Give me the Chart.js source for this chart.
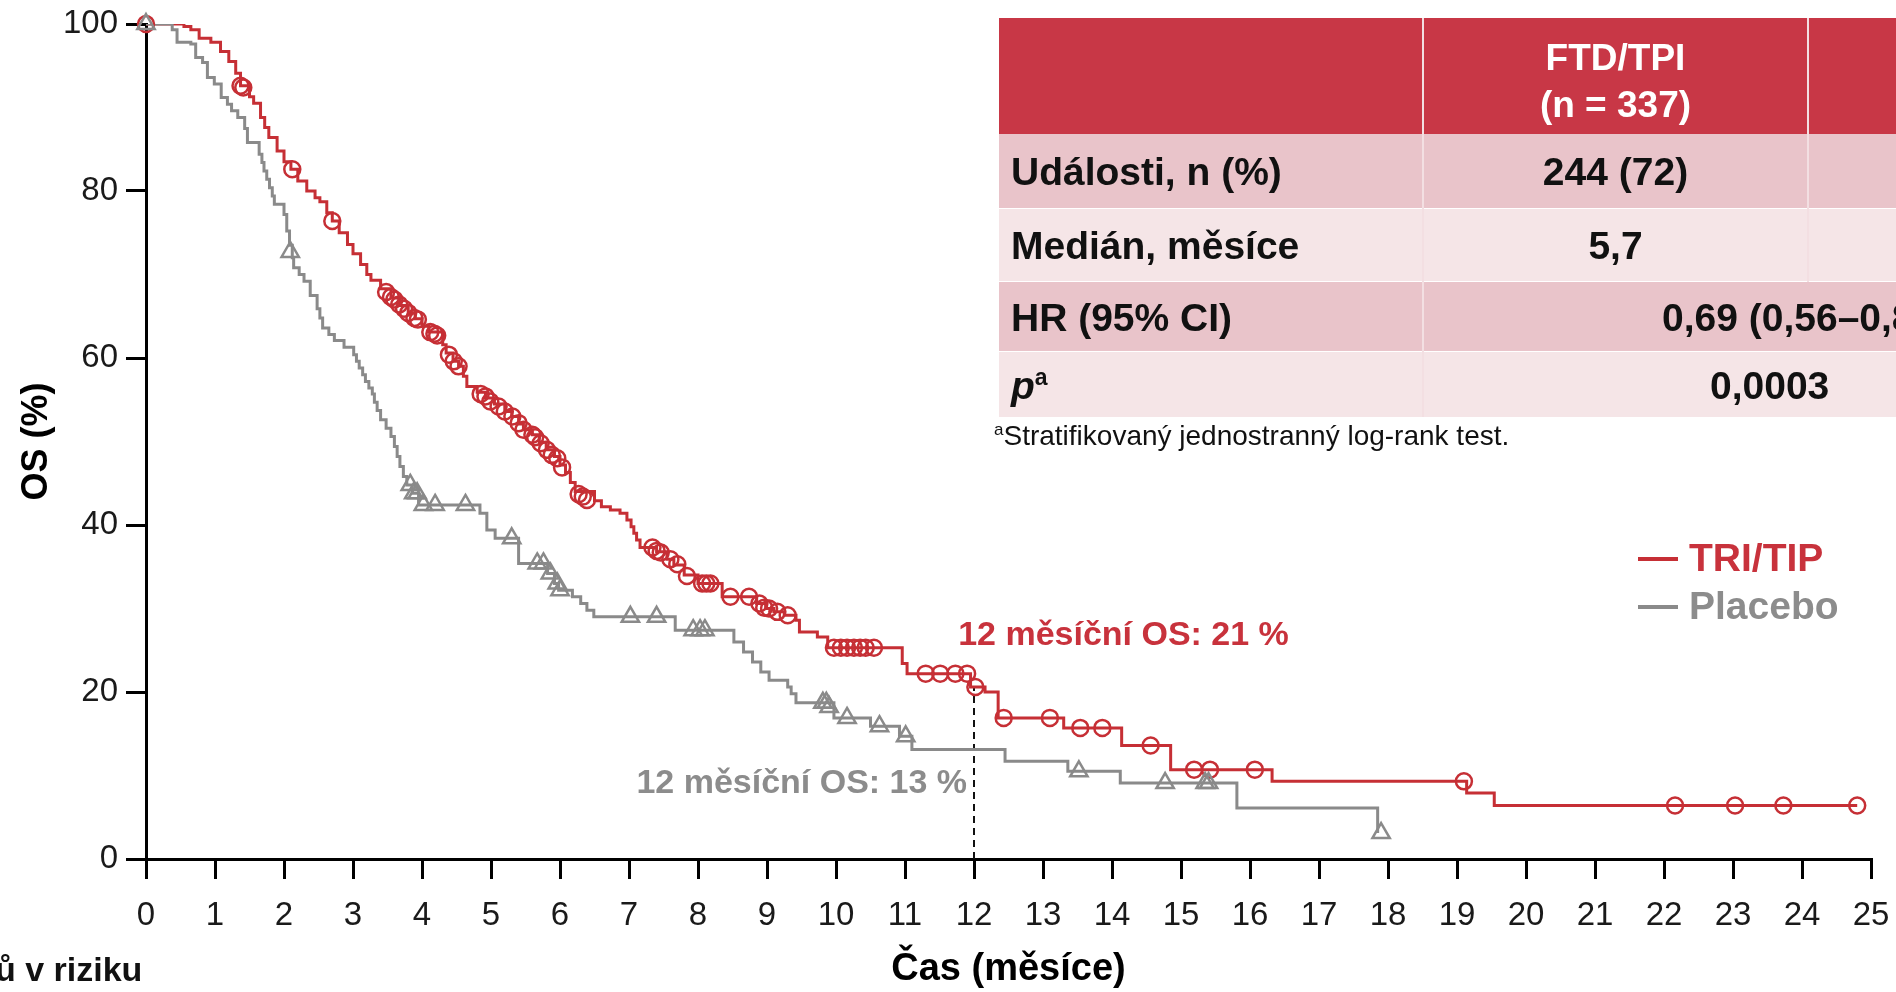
<!DOCTYPE html>
<html lang="cs">
<head>
<meta charset="utf-8">
<title>Celkové přežití – TRI/TIP vs. placebo</title>
<script src="https://cdn.jsdelivr.net/npm/chart.js@4.4.1/dist/chart.umd.min.js"></script>
<style>
  html, body { margin: 0; padding: 0; background: #fff; overflow: hidden; }
  #wrap {
    position: relative; width: 1896px; height: 992px; overflow: hidden;
    font-family: 'Liberation Sans', Arial, Helvetica, sans-serif; color: #111;
  }
  #os { position: absolute; left: 0; top: 0; }

  table.stats {
    position: absolute; left: 999px; top: 18px;
    border-collapse: collapse; table-layout: fixed; width: 1194px;
    font-weight: bold; font-size: 39px;
  }
  table.stats td, table.stats th { padding: 0; white-space: nowrap; vertical-align: middle; }
  table.stats th {
    background: #c83746; color: #fff; height: 116px; line-height: 47px;
    font-weight: bold; font-size: 37px; text-align: center; padding-top: 10px; box-sizing: border-box;
  }
  table.stats .sep { border-left: 2px solid #f3dfe2; }
  table.stats tr.dark td { background: #e9c4ca; }
  table.stats tr.light td { background: #f5e5e7; }
  table.stats tbody tr + tr td { border-top: 1px solid #fff; }
  table.stats td.lbl { padding-left: 12px; padding-top: 3px; }
  table.stats td.val { text-align: center; padding-top: 3px; }
  table.stats td.span { text-align: left; padding-top: 3px; }

  .foot {
    position: absolute; left: 994px; top: 420px; font-size: 28px; white-space: nowrap;
  }
  .foot sup { font-size: 17px; vertical-align: 10px; }
  .risk {
    position: absolute; left: -5px; top: 950px; font-size: 34px; font-weight: bold; white-space: nowrap;
  }
</style>
</head>
<body>
<div id="wrap">
  <canvas id="os" width="1896" height="992"></canvas>

  <table class="stats">
    <colgroup><col style="width:424px"><col style="width:385px"><col style="width:385px"></colgroup>
    <thead>
      <tr><th></th><th class="sep">FTD/TPI<br>(n = 337)</th><th class="sep"></th></tr>
    </thead>
    <tbody>
      <tr class="dark" style="height:74px"><td class="lbl">Události, n (%)</td><td class="val sep">244 (72)</td><td class="sep"></td></tr>
      <tr class="light" style="height:73px"><td class="lbl">Medián, měsíce</td><td class="val sep">5,7</td><td class="sep"></td></tr>
      <tr class="dark" style="height:70px"><td class="lbl">HR (95% CI)</td><td class="span sep" colspan="2" style="padding-left:238px">0,69 (0,56–0,85)</td></tr>
      <tr class="light" style="height:66px"><td class="lbl"><i>p</i><sup style="font-size:23px">a</sup></td><td class="span sep" colspan="2" style="padding-left:286px">0,0003</td></tr>
    </tbody>
  </table>
  <div class="foot"><sup>a</sup>Stratifikovaný jednostranný log-rank test.</div>
  <div class="risk">ů v riziku</div>
</div>

<script>
// Kaplan-Meier steps: time (months) of each drop and OS (%) after it
const triTipTime = [0, 0.55, 0.65, 0.77, 0.94, 1.08, 1.2, 1.3, 1.37, 1.5, 1.56, 1.66, 1.72, 1.78, 1.9, 2.0,
  2.1, 2.2, 2.33, 2.45, 2.52, 2.62, 2.7, 2.8, 2.92, 3.0, 3.11, 3.2, 3.26, 3.4, 3.55, 3.68, 3.8, 3.9, 4.0,
  4.1, 4.3, 4.35, 4.45, 4.53, 4.6, 4.65, 4.8, 4.92, 5.05, 5.2, 5.3, 5.4, 5.47, 5.6, 5.7, 5.8, 5.92, 6.0,
  6.08, 6.15, 6.22, 6.5, 6.6, 6.73, 6.87, 6.97, 7.03, 7.07, 7.11, 7.16, 7.4, 7.55, 7.65, 7.8, 8.0, 8.35,
  8.85, 8.98, 9.1, 9.25, 9.42, 9.47, 9.73, 9.88, 10.96, 11.03, 11.95, 12.16, 12.35, 13.3, 14.14, 14.85,
  16.32, 19.14, 19.54, 24.8];
const triTipOS = [100, 99.7, 99.3, 98.3, 97.8, 96.7, 95.5, 94.1, 92.6, 91.3, 90.5, 88.8, 87.6, 86.4, 84.8, 83.5,
  82.6, 81.2, 80.0, 79.2, 78.7, 77.4, 76.4, 75.0, 73.6, 72.5, 71.2, 70.0, 69.3, 68.3, 67.2, 66.3, 65.4, 64.7, 63.8,
  63.1, 61.6, 60.6, 59.6, 59.0, 57.8, 56.6, 55.9, 55.2, 54.5, 53.6, 53.0, 52.1, 51.4, 50.8, 49.9, 49.0, 48.2, 47.2,
  46.3, 45.1, 44.0, 42.9, 42.2, 41.8, 41.4, 40.6, 39.8, 39.0, 38.2, 37.3, 36.8, 35.9, 35.2, 34.0, 33.0, 31.4,
  30.6, 30.0, 29.6, 29.2, 28.6, 27.2, 26.6, 25.3, 23.4, 22.2, 20.6, 20.0, 16.9, 15.7, 13.6, 10.7,
  9.3, 7.9, 6.4, 6.4];

const placeboTime = [0, 0.38, 0.45, 0.65, 0.72, 0.82, 0.89, 0.99, 1.09, 1.18, 1.24, 1.33, 1.43, 1.47, 1.64, 1.68,
  1.71, 1.75, 1.79, 1.83, 1.86, 2.0, 2.04, 2.08, 2.12, 2.14, 2.22, 2.29, 2.38, 2.48, 2.52, 2.56, 2.65, 2.73,
  2.87, 3.01, 3.05, 3.09, 3.14, 3.18, 3.23, 3.28, 3.31, 3.35, 3.4, 3.48, 3.55, 3.6, 3.64, 3.68, 3.73, 3.78,
  3.86, 3.95, 4.84, 4.94, 5.06, 5.4, 5.82, 5.92, 5.98, 6.18, 6.3, 6.39, 6.49, 7.67, 8.52, 8.66, 8.79, 8.91,
  9.03, 9.3, 9.35, 9.42, 9.97, 10.5, 10.92, 11.1, 12.45, 13.36, 14.12, 15.81, 17.85];
const placeboOS = [100, 99.3, 97.8, 97.6, 96.0, 95.4, 93.6, 92.8, 91.2, 90.4, 89.6, 88.8, 87.5, 85.8, 84.4, 83.4,
  82.4, 81.4, 80.4, 79.4, 78.4, 77.2, 75.2, 73.5, 72.0, 70.8, 70.0, 69.2, 67.5, 65.9, 64.8, 63.6, 62.8, 62.1,
  61.3, 60.4, 59.6, 58.8, 58.0, 57.2, 56.4, 55.7, 54.7, 53.7, 52.6, 51.6, 50.6, 49.4, 48.2, 47.0, 45.8, 44.8,
  43.8, 42.4, 41.4, 39.4, 38.4, 35.4, 34.2, 33.0, 32.2, 31.4, 30.6, 29.8, 29.0, 27.4, 26.0, 24.8, 23.6, 22.4,
  21.4, 20.6, 19.8, 18.7, 16.9, 15.9, 14.7, 13.1, 11.7, 10.5, 9.1, 6.1, 3.1];

// censored patients
const triTipCensorTime = [0, 1.37, 1.41, 2.12, 2.7, 3.48, 3.55, 3.6, 3.67, 3.74, 3.8, 3.89, 3.94, 4.12, 4.18, 4.22,
  4.39, 4.46, 4.53, 4.85, 4.92, 4.99, 5.11, 5.2, 5.31, 5.4, 5.47, 5.6, 5.64, 5.72, 5.81, 5.88, 5.96, 6.03,
  6.27, 6.33, 6.39, 7.34, 7.4, 7.46, 7.6, 7.7, 7.84, 8.06, 8.12, 8.18, 8.47, 8.74, 8.89, 8.96, 9.03, 9.15, 9.3,
  9.97, 10.07, 10.16, 10.26, 10.35, 10.43, 10.55, 11.3, 11.51, 11.73, 11.9, 12.02, 12.43, 13.1, 13.54, 13.86,
  14.56, 15.19, 15.42, 16.07, 19.1, 22.16, 23.03, 23.73, 24.8];
const triTipCensorOS = [100, 92.6, 92.4, 82.6, 76.4, 67.9, 67.3, 67.0, 66.4, 65.9, 65.4, 64.8, 64.6, 63.1, 62.9, 62.7,
  60.4, 59.6, 59.0, 55.7, 55.4, 54.8, 54.2, 53.6, 53.0, 52.2, 51.4, 50.8, 50.5, 49.8, 49.0, 48.4, 48.0, 46.9,
  43.7, 43.4, 43.0, 37.3, 36.9, 36.7, 35.9, 35.3, 33.9, 33.0, 33.0, 33.0, 31.4, 31.4, 30.6, 30.1, 30.0, 29.6, 29.2,
  25.3, 25.3, 25.3, 25.3, 25.3, 25.3, 25.3, 22.2, 22.2, 22.2, 22.2, 20.6, 16.9, 16.9, 15.7, 15.7,
  13.6, 10.7, 10.7, 10.7, 9.3, 6.4, 6.4, 6.4, 6.4];

const placeboCensorTime = [0, 2.09, 3.83, 3.88, 3.93, 4.02, 4.19, 4.63, 5.3, 5.67, 5.76, 5.86, 5.96, 6.0, 7.02, 7.4,
  7.93, 8.03, 8.1, 9.81, 9.86, 9.9, 10.16, 10.63, 11.01, 13.52, 14.77, 15.35, 15.4, 17.9];
const placeboCensorOS = [100, 72.7, 44.8, 43.8, 43.8, 42.4, 42.4, 42.4, 38.4, 35.4, 35.4, 34.2, 33.0, 32.2, 29.0, 29.0,
  27.4, 27.4, 27.4, 18.7, 18.7, 18.2, 16.9, 15.9, 14.7, 10.5, 9.1, 9.1, 9.1, 3.1];

const monthTicks = [0, 1, 2, 3, 4, 5, 6, 7, 8, 9, 10, 11, 12, 13, 14, 15, 16, 17, 18, 19, 20, 21, 22, 23, 24, 25];
const osTicks = [0, 20, 40, 60, 80, 100];
const landmarkMonth = 12;
const seriesNames = ['TRI/TIP', 'Placebo'];

const RED = '#c62f35';
const GRAY = '#8a8a8a';
const FONT = "'Liberation Sans', Arial, Helvetica, sans-serif";

const toPoints = (xs, ys) => xs.map((x, i) => ({ x, y: ys[i] }));
const osAt = (xs, ys, t) => {
  let s = ys[0];
  xs.forEach((x, i) => { if (x <= t) s = ys[i]; });
  return s;
};

const redAt12 = osAt(triTipTime, triTipOS, landmarkMonth);
const grayAt12 = osAt(placeboTime, placeboOS, landmarkMonth);

// landmark labels, legend
const overlay = {
  id: 'overlay',
  afterDatasetsDraw(chart) {
    const { ctx, scales: { x, y } } = chart;
    ctx.save();
    ctx.font = `bold 34px ${FONT}`;
    ctx.textBaseline = 'middle';
    ctx.fillStyle = '#c8323c';
    ctx.textAlign = 'left';
    ctx.fillText(`12 měsíční OS: ${Math.round(redAt12)} %`, x.getPixelForValue(11.77), y.getPixelForValue(26.8));
    ctx.fillStyle = '#8c8c8c';
    ctx.textAlign = 'right';
    ctx.fillText(`12 měsíční OS: ${Math.round(grayAt12)} %`, x.getPixelForValue(11.9), y.getPixelForValue(9.0));

    ctx.font = `bold 39px ${FONT}`;
    ctx.textAlign = 'left';
    [[RED, '#c8323c', 559], [GRAY, '#8c8c8c', 607]].forEach(([line, text, ly], i) => {
      ctx.strokeStyle = line;
      ctx.lineWidth = 4;
      ctx.beginPath();
      ctx.moveTo(1638, ly);
      ctx.lineTo(1678, ly);
      ctx.stroke();
      ctx.fillStyle = text;
      ctx.fillText(seriesNames[i], 1689, ly + 1);
    });
    ctx.restore();
  },
};

// the axes get a fixed box so the plot area sits at 146..1871 x 24..859
const fixBox = (size) => (s) => {
  if (s.isHorizontal()) s.height = size; else s.width = size;
  s.paddingLeft = s.paddingRight = s.paddingTop = s.paddingBottom = 0;
};

new Chart(document.getElementById('os'), {
  type: 'line',
  data: {
    datasets: [
      {
        label: seriesNames[0],
        data: toPoints(triTipTime, triTipOS),
        borderColor: RED,
        borderWidth: 3,
        stepped: 'before',
        pointRadius: 0,
        order: 4,
      },
      {
        label: seriesNames[1],
        data: toPoints(placeboTime, placeboOS),
        borderColor: GRAY,
        borderWidth: 3,
        stepped: 'before',
        pointRadius: 0,
        order: 3,
      },
      {
        label: 'TRI/TIP cenzurováno',
        data: toPoints(triTipCensorTime, triTipCensorOS),
        showLine: false,
        pointStyle: 'circle',
        pointRadius: 8,
        pointBorderWidth: 2.5,
        pointBorderColor: RED,
        pointBackgroundColor: 'rgba(0,0,0,0)',
        clip: false,
        order: 2,
      },
      {
        label: 'Placebo cenzurováno',
        data: toPoints(placeboCensorTime, placeboCensorOS),
        showLine: false,
        pointStyle: 'triangle',
        pointRadius: 10,
        pointBorderWidth: 2.5,
        pointBorderColor: GRAY,
        pointBackgroundColor: 'rgba(0,0,0,0)',
        clip: false,
        order: 1,
      },
      {
        label: '12 měsíců',
        data: [{ x: landmarkMonth, y: 0 }, { x: landmarkMonth, y: redAt12 }],
        borderColor: '#111',
        borderWidth: 2,
        borderDash: [7, 5],
        pointRadius: 0,
        order: 5,
      },
    ],
  },
  options: {
    responsive: false,
    animation: false,
    events: [],
    layout: { padding: { top: 24, right: 25, left: 0, bottom: 0 } },
    plugins: { legend: { display: false }, tooltip: { enabled: false } },
    scales: {
      x: {
        type: 'linear',
        min: 0,
        max: 25,
        afterFit: fixBox(133),
        afterBuildTicks: (s) => { s.ticks = monthTicks.map((value) => ({ value })); },
        ticks: { color: '#1a1a1a', font: { family: FONT, size: 33 }, padding: 17, maxRotation: 0, autoSkip: false },
        grid: { drawOnChartArea: false, color: '#000', lineWidth: 3, tickLength: 20 },
        border: { color: '#000', width: 3 },
        title: {
          display: true,
          text: 'Čas (měsíce)',
          color: '#000',
          font: { family: FONT, size: 38, weight: 'bold' },
          padding: { top: 0, bottom: 0 },
        },
      },
      y: {
        min: 0,
        max: 100,
        afterFit: fixBox(146),
        afterBuildTicks: (s) => { s.ticks = osTicks.map((value) => ({ value })); },
        ticks: { color: '#1a1a1a', font: { family: FONT, size: 33 }, padding: 8 },
        grid: { drawOnChartArea: false, color: '#000', lineWidth: 3, tickLength: 20 },
        border: { color: '#000', width: 3 },
        title: {
          display: true,
          text: 'OS (%)',
          color: '#000',
          font: { family: FONT, size: 36, weight: 'bold' },
          padding: { top: 15, bottom: 0 },
        },
      },
    },
  },
  plugins: [overlay],
});
</script>
</body>
</html>
